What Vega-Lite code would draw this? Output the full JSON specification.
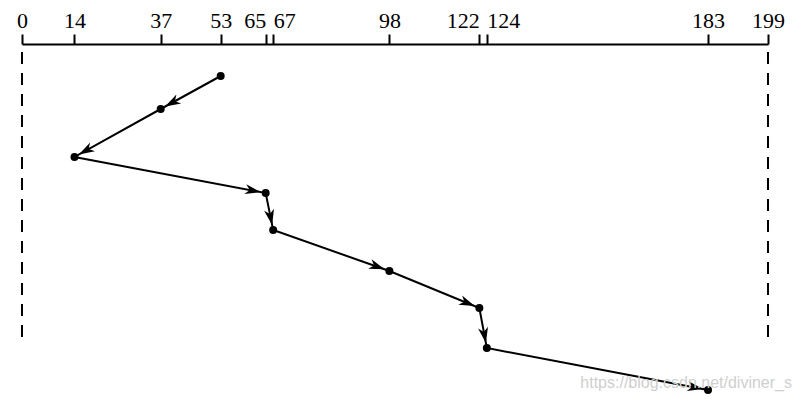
{
  "$schema": "https://vega.github.io/schema/vega-lite/v6.json",
  "width": 746,
  "height": 356,
  "autosize": {"type": "none"},
  "padding": {"left": 22, "top": 44, "right": 33, "bottom": 2},
  "background": "white",
  "config": {"view": {"stroke": null}},
  "datasets": {
    "path": [
      {"order": 0, "track": 53, "t": 0.8},
      {"order": 1, "track": 37, "t": 1.625},
      {"order": 2, "track": 14, "t": 2.825},
      {"order": 3, "track": 65, "t": 3.725},
      {"order": 4, "track": 67, "t": 4.65},
      {"order": 5, "track": 98, "t": 5.675},
      {"order": 6, "track": 122, "t": 6.6},
      {"order": 7, "track": 124, "t": 7.6},
      {"order": 8, "track": 183, "t": 8.65}
    ],
    "bounds": [{"track": 0}, {"track": 199}]
  },
  "layer": [
    {
      "data": {"name": "bounds"},
      "mark": {"type": "rule", "color": "black", "strokeWidth": 2, "strokeDash": [12, 9]},
      "encoding": {
        "x": {
          "field": "track",
          "type": "quantitative",
          "scale": {"domain": [0, 199], "nice": false, "zero": false},
          "axis": {
            "orient": "top",
            "title": null,
            "values": [0, 14, 37, 53, 65, 67, 98, 122, 124, 183, 199],
            "grid": false,
            "domainColor": "black",
            "domainWidth": 2,
            "tickColor": "black",
            "tickWidth": 2,
            "tickSize": 10,
            "labelFont": "Liberation Serif",
            "labelFontSize": 22,
            "labelColor": "black",
            "labelPadding": 2,
            "labelOverlap": false,
            "labelFlush": false,
            "labelAlign": {
              "condition": [
                {"test": "datum.value == 65 || datum.value == 122", "value": "right"},
                {"test": "datum.value == 67 || datum.value == 124", "value": "left"}
              ],
              "value": "center"
            }
          }
        },
        "y": {"datum": 0.2, "type": "quantitative", "scale": {"domain": [0, 8.9], "reverse": true, "nice": false, "zero": false}, "axis": null},
        "y2": {"datum": 7.525}
      }
    },
    {
      "data": {"name": "path"},
      "mark": {"type": "line", "color": "black", "strokeWidth": 2},
      "encoding": {
        "x": {"field": "track", "type": "quantitative"},
        "y": {"field": "t", "type": "quantitative"},
        "order": {"field": "order", "type": "quantitative"}
      }
    },
    {
      "data": {"name": "path"},
      "mark": {"type": "circle", "color": "black", "opacity": 1, "size": 64},
      "encoding": {
        "x": {"field": "track", "type": "quantitative"},
        "y": {"field": "t", "type": "quantitative"}
      }
    },
    {
      "data": {"name": "path"},
      "transform": [
        {"window": [{"op": "lag", "field": "track", "as": "ptrack"}, {"op": "lag", "field": "t", "as": "pt"}], "sort": [{"field": "order"}]},
        {"filter": "datum.ptrack != null"},
        {"calculate": "atan2((datum.t - datum.pt) * 40, (datum.track - datum.ptrack) * 746 / 199) * 180 / PI", "as": "angle"}
      ],
      "mark": {"type": "point", "shape": "M -0.45 0 L -1.85 -0.45 L -1.45 0 L -1.85 0.45 Z", "filled": true, "color": "black", "opacity": 1, "size": 500, "strokeWidth": 0},
      "encoding": {
        "x": {"field": "track", "type": "quantitative"},
        "y": {"field": "t", "type": "quantitative"},
        "angle": {"field": "angle", "type": "quantitative", "scale": null}
      }
    },
    {
      "data": {"values": [{"label": "https://blog.csdn.net/diviner_s"}]},
      "mark": {"type": "text", "align": "right", "baseline": "middle", "dx": 24, "font": "Liberation Sans", "fontSize": 16, "color": "#cfcfcf"},
      "encoding": {
        "x": {"datum": 199, "type": "quantitative"},
        "y": {"datum": 8.475, "type": "quantitative"},
        "text": {"field": "label"}
      }
    }
  ]
}
